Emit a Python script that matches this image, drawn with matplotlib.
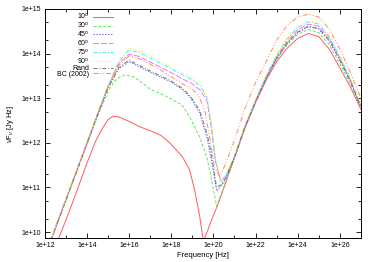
import numpy as np
import matplotlib
matplotlib.use('Agg')
import matplotlib.pyplot as plt
from matplotlib.ticker import LogLocator, FuncFormatter, NullFormatter

plt.rcParams['font.family'] = ['Liberation Sans', 'DejaVu Sans']
plt.rcParams['mathtext.fontset'] = 'custom'
plt.rcParams['mathtext.rm'] = 'Liberation Sans'
plt.rcParams['mathtext.it'] = 'Liberation Sans:italic'

# log10(frequency [Hz]) and log10(nu F_nu [Jy Hz])
lognu_10 = [12.3, 13.0, 13.5, 14.0, 14.4, 14.7, 15.0, 15.25, 15.5, 16.0, 16.5, 17.0, 17.5,
            17.92, 18.2, 18.54, 18.87, 19.11, 19.35, 19.52, 19.73, 20.0, 20.2, 20.5, 21.0,
            21.5, 22.0, 22.5, 23.0, 23.5, 24.0, 24.5, 25.0, 25.5, 26.0, 26.5, 27.0]
logf_10 = [9.44, 10.27, 10.9, 11.55, 12.03, 12.3, 12.52, 12.6, 12.58, 12.48, 12.36, 12.27, 12.17,
           12.0, 11.86, 11.68, 11.39, 10.94, 10.34, 9.8, 10.04, 10.38, 10.6, 11.0, 11.66,
           12.33, 12.9, 13.4, 13.82, 14.12, 14.34, 14.45, 14.38, 14.1, 13.68, 13.25, 12.75]

lognu_30 = [12.0, 13.0, 14.0, 14.5, 15.0, 15.3, 15.6, 15.8, 16.2, 16.6, 17.0, 17.5, 18.0,
            18.5, 18.87, 19.35, 19.68, 19.82, 20.0, 20.15, 20.5, 21.0, 21.5, 22.0, 22.5,
            23.0, 23.5, 24.0, 24.5, 25.0, 25.5, 26.0, 26.5, 27.0]
logf_30 = [9.43, 10.7, 11.97, 12.6, 13.15, 13.38, 13.49, 13.52, 13.48, 13.35, 13.2, 13.1, 12.98,
           12.85, 12.58, 12.13, 11.68, 11.39, 10.95, 10.58, 11.02, 11.69, 12.37, 12.93, 13.45,
           13.88, 14.2, 14.43, 14.54, 14.47, 14.2, 13.77, 13.32, 12.78]

lognu_45 = [12.0, 13.0, 14.0, 14.5, 15.0, 15.5, 16.0, 16.5, 17.0, 17.5, 18.0, 18.5, 18.9,
            19.35, 19.7, 19.9, 20.15, 20.4, 20.6, 21.0, 21.5, 22.0, 22.5, 23.0, 23.5,
            24.0, 24.5, 25.0, 25.5, 26.0, 26.5, 27.0]
logf_45 = [9.44, 10.71, 11.98, 12.62, 13.22, 13.66, 13.82, 13.7, 13.58, 13.47, 13.36, 13.2, 13.02,
           12.67, 12.1, 11.62, 10.92, 11.05, 11.22, 11.68, 12.36, 12.92, 13.44, 13.88, 14.23,
           14.47, 14.6, 14.55, 14.28, 13.85, 13.38, 12.8]

lognu_60 = [12.0, 13.0, 14.0, 14.5, 15.0, 15.5, 16.0, 16.5, 17.0, 17.5, 18.0, 18.5, 19.0,
            19.4, 19.7, 19.9, 20.1, 20.35, 20.6, 21.0, 21.5, 22.0, 22.5, 23.0, 23.5,
            24.0, 24.5, 25.0, 25.5, 26.0, 26.5, 27.0]
logf_60 = [9.46, 10.73, 12.0, 12.64, 13.26, 13.77, 13.99, 13.93, 13.81, 13.69, 13.57, 13.44, 13.32,
           13.17, 12.92, 12.35, 11.58, 11.15, 11.25, 11.68, 12.36, 12.93, 13.46, 13.92, 14.28,
           14.53, 14.66, 14.61, 14.34, 13.9, 13.4, 12.82]

lognu_75 = lognu_60
logf_75 = [9.47, 10.74, 12.01, 12.65, 13.28, 13.82, 14.08, 14.02, 13.9, 13.78, 13.66, 13.53, 13.41,
           13.26, 13.0, 12.4, 11.6, 11.12, 11.28, 11.7, 12.38, 12.96, 13.5, 13.96, 14.33,
           14.58, 14.71, 14.66, 14.38, 13.93, 13.43, 12.84]

lognu_90 = lognu_60
logf_90 = [9.48, 10.75, 12.02, 12.66, 13.3, 13.85, 14.12, 14.06, 13.94, 13.82, 13.7, 13.57, 13.45,
           13.3, 13.05, 12.45, 11.65, 11.12, 11.3, 11.72, 12.4, 12.98, 13.52, 13.98, 14.35,
           14.6, 14.72, 14.68, 14.4, 13.95, 13.45, 12.85]

lognu_rand = lognu_45
logf_rand = [9.45, 10.72, 11.99, 12.63, 13.24, 13.68, 13.85, 13.73, 13.61, 13.5, 13.38, 13.23, 13.05,
             12.72, 12.2, 11.75, 11.0, 11.07, 11.22, 11.68, 12.36, 12.92, 13.45, 13.9, 14.24,
             14.48, 14.61, 14.56, 14.29, 13.86, 13.38, 12.8]

lognu_bc = [12.0, 13.0, 14.0, 14.5, 15.0, 15.5, 16.0, 16.5, 17.0, 17.5, 18.0, 18.5, 19.0,
            19.3, 19.6, 19.85, 20.05, 20.3, 20.6, 21.0, 21.5, 22.0, 22.5, 23.0, 23.5,
            24.0, 24.5, 25.0, 25.5, 26.0, 26.5, 27.0]
logf_bc = [9.46, 10.73, 12.0, 12.64, 13.25, 13.73, 13.95, 13.88, 13.76, 13.63, 13.48, 13.33, 13.2,
           13.05, 12.7, 12.05, 11.45, 11.25, 11.55, 12.06, 12.78, 13.35, 13.82, 14.3, 14.63,
           14.82, 14.88, 14.82, 14.55, 14.1, 13.58, 13.0]

series = [
    (r'10$^{\rm o}$', lognu_10, logf_10, '#ff5a5a', '-'),
    (r'30$^{\rm o}$', lognu_30, logf_30, '#5ae85a', (0, (3, 2))),
    (r'45$^{\rm o}$', lognu_45, logf_45, '#6a6aff', (0, (1.5, 1.5))),
    (r'60$^{\rm o}$', lognu_60, logf_60, '#ff6aff', (0, (6, 2))),
    (r'75$^{\rm o}$', lognu_75, logf_75, '#40eeee', (0, (4, 2, 1, 2))),
    (r'90$^{\rm o}$', lognu_90, logf_90, '#eeee40', (0, (1, 1.5))),
    ('Rand', lognu_rand, logf_rand, '#707070', (0, (4, 2, 1, 2))),
    ('BC (2002)', lognu_bc, logf_bc, '#ff8a5a', (0, (5, 2, 1, 2, 1, 2))),
]

fig = plt.figure(figsize=(3.74, 2.62), dpi=100)
ax = fig.add_axes([0.12, 0.092, 0.845, 0.874])

for label, lx, ly, c, ls in series:
    ax.plot(10 ** np.array(lx), 10 ** np.array(ly), color=c, ls=ls, lw=0.7, label=label)

ax.set_xscale('log')
ax.set_yscale('log')
ax.set_xlim(1e12, 1e27)
ax.set_ylim(7.4e9, 1e15)

fmt = FuncFormatter(lambda v, p: '1e+%d' % round(np.log10(v)))
ax.xaxis.set_major_locator(LogLocator(base=100.0, numticks=20))
ax.xaxis.set_minor_locator(LogLocator(base=10.0, numticks=30))
ax.xaxis.set_major_formatter(fmt)
ax.xaxis.set_minor_formatter(NullFormatter())
ax.yaxis.set_major_locator(LogLocator(base=10.0, numticks=20))
ax.yaxis.set_minor_locator(LogLocator(base=10.0, subs=(2.0, 5.0), numticks=20))
ax.yaxis.set_major_formatter(fmt)
ax.yaxis.set_minor_formatter(NullFormatter())

ax.tick_params(which='both', direction='in', top=True, right=True, labelsize=5, width=0.6)
ax.tick_params(which='major', length=3.5, pad=3)
ax.tick_params(which='minor', length=2)
for s in ax.spines.values():
    s.set_linewidth(0.7)

ax.set_xlabel('Frequency [Hz]', fontsize=5.5, labelpad=2)
ax.set_ylabel(r'$\nu$F$_\nu$ [Jy Hz]', fontsize=5.5, labelpad=4)

ax.legend(loc='upper right', bbox_to_anchor=(0.215, 0.99), frameon=False, fontsize=5,
          markerfirst=False, handlelength=2.8, handletextpad=0.6, labelspacing=-0.15,
          borderpad=0, borderaxespad=0)

fig.savefig('out.png', dpi=100)
